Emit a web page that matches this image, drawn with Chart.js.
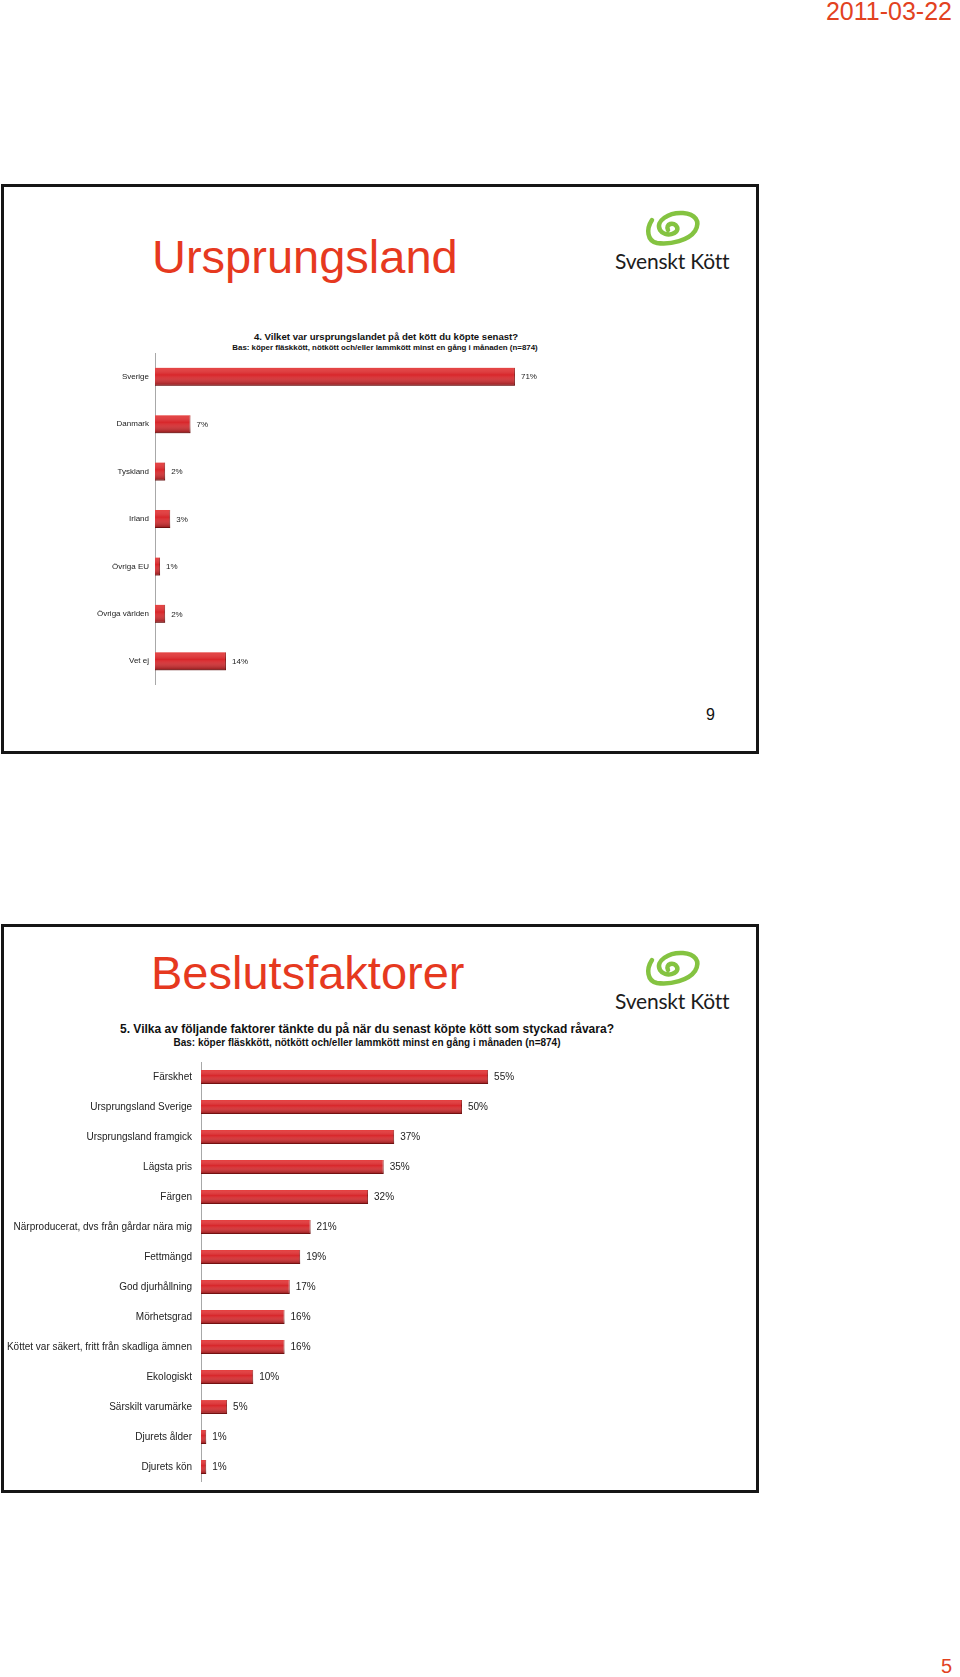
<!DOCTYPE html>
<html>
<head>
<meta charset="utf-8">
<script src="https://cdn.jsdelivr.net/npm/chart.js@4.4.0/dist/chart.umd.min.js"></script>
<style>
  body { margin: 0; background: #fff; font-family: "Liberation Sans", Arial, sans-serif; }
  #page { position: relative; width: 960px; height: 1677px; overflow: hidden; }
  .abs { position: absolute; white-space: nowrap; }
  .slide { position: absolute; box-sizing: border-box; border: 3px solid #161616; }
  .bigtitle { font-size: 47px; line-height: 47px; color: #e6391f; }
  .qtitle { text-align: center; font-weight: bold; color: #111; }
  .logotext { font-family: Lato, "Open Sans", sans-serif; font-size: 21px; line-height: 21px; color: #1c1c1c; letter-spacing: -0.2px; }
  canvas { position: absolute; }
</style>
</head>
<body>
<div id="page">
  <div class="abs" style="right:8px; top:-1px; font-size:25px; line-height:25px; color:#e2421f;">2011-03-22</div>

  <!-- slide 9 -->
  <div class="slide" style="left:1px; top:184px; width:758px; height:570px;"></div>
  <div class="abs bigtitle" style="left:152px; top:233px;">Ursprungsland</div>
  <svg class="abs" style="left:643px; top:207px;" width="60" height="42" viewBox="0 0 60 42">
    <path d="M25 23 C22 17 31 14 34 20 C37 27 22 31 17 23 C12 14 26 5 40 6 C52 7 58 14 52 24 C46 33 28 38 14 36 C4 34 3 22 9 13" fill="none" stroke="#84c341" stroke-width="4.5" stroke-linecap="round" stroke-linejoin="round"/>
  </svg>
  <div class="abs logotext" style="left:615px; top:250px;">Svenskt Kött</div>
  <div class="abs qtitle" style="left:136px; width:500px; top:331px; font-size:9.6px; line-height:11px;">4. Vilket var ursprungslandet på det kött du köpte senast?</div>
  <div class="abs qtitle" style="left:135px; width:500px; top:343px; font-size:7.9px; line-height:9px;">Bas: köper fläskkött, nötkött och/eller lammkött minst en gång i månaden (n=874)</div>
  <canvas id="chart1" width="657" height="332" style="left:5px; top:353px;"></canvas>
  <div class="abs" style="left:706px; top:707px; font-size:16px; line-height:16px; color:#111;">9</div>

  <!-- slide 5 -->
  <div class="slide" style="left:1px; top:924px; width:758px; height:569px;"></div>
  <div class="abs bigtitle" style="left:151px; top:949px;">Beslutsfaktorer</div>
  <svg class="abs" style="left:643px; top:947px;" width="60" height="42" viewBox="0 0 60 42">
    <path d="M25 23 C22 17 31 14 34 20 C37 27 22 31 17 23 C12 14 26 5 40 6 C52 7 58 14 52 24 C46 33 28 38 14 36 C4 34 3 22 9 13" fill="none" stroke="#84c341" stroke-width="4.5" stroke-linecap="round" stroke-linejoin="round"/>
  </svg>
  <div class="abs logotext" style="left:615px; top:990px;">Svenskt Kött</div>
  <div class="abs qtitle" style="left:67px; width:600px; top:1023px; font-size:12px; line-height:13px;">5. Vilka av följande faktorer tänkte du på när du senast köpte kött som styckad råvara?</div>
  <div class="abs qtitle" style="left:67px; width:600px; top:1037px; font-size:10px; line-height:12px;">Bas: köper fläskkött, nötkött och/eller lammkött minst en gång i månaden (n=874)</div>
  <canvas id="chart2" width="717" height="420" style="left:6px; top:1062px;"></canvas>

  <div class="abs" style="right:8px; top:1656px; font-size:20px; line-height:20px; color:#e2421f;">5</div>
</div>

<script>
// Data
const countryLabels = ['Sverige', 'Danmark', 'Tyskland', 'Irland', 'Övriga EU', 'Övriga världen', 'Vet ej'];
const countryValues = [71, 7, 2, 3, 1, 2, 14];

const factorLabels = [
    'Färskhet',
    'Ursprungsland Sverige',
    'Ursprungsland framgick',
    'Lägsta pris',
    'Färgen',
    'Närproducerat, dvs från gårdar nära mig',
    'Fettmängd',
    'God djurhållning',
    'Mörhetsgrad',
    'Köttet var säkert, fritt från skadliga ämnen',
    'Ekologiskt',
    'Särskilt varumärke',
    'Djurets ålder',
    'Djurets kön'
];
const factorValues = [55, 50, 37, 35, 32, 21, 19, 17, 16, 16, 10, 5, 1, 1];

const FONT = '"Liberation Sans", Arial, sans-serif';

// Shading over each bar plus the percent label at its end
const barDecor = {
    id: 'barDecor',
    afterDatasetsDraw(chart, args, opts) {
        const ctx = chart.ctx;
        const meta = chart.getDatasetMeta(0);
        const data = chart.data.datasets[0].data;
        ctx.save();
        meta.data.forEach((bar, i) => {
            const p = bar.getProps(['x', 'y', 'base', 'height'], true);
            const top = p.y - p.height / 2;
            const g = ctx.createLinearGradient(0, top, 0, top + p.height);
            g.addColorStop(0, 'rgba(255,120,110,0.35)');
            g.addColorStop(0.4, 'rgba(255,255,255,0)');
            g.addColorStop(1, 'rgba(70,0,0,0.5)');
            ctx.fillStyle = g;
            ctx.fillRect(p.base, top, p.x - p.base, p.height);

            ctx.fillStyle = opts.color;
            ctx.font = opts.size + 'px ' + FONT;
            ctx.textAlign = 'left';
            ctx.textBaseline = 'middle';
            ctx.fillText(data[i] + '%', p.x + opts.gap, p.y + 0.5);
        });
        ctx.restore();
    }
};

function makeChart(id, labels, values, cfg) {
    const ctx = document.getElementById(id).getContext('2d');
    return new Chart(ctx, {
        type: 'bar',
        data: {
            labels: labels,
            datasets: [{
                data: values,
                backgroundColor: '#d8262a',
                borderColor: '#8c1515',
                borderWidth: { top: 0, right: 1, bottom: 1, left: 0 },
                borderSkipped: false,
                barPercentage: cfg.barPct,
                categoryPercentage: 1
            }]
        },
        options: {
            indexAxis: 'y',
            responsive: false,
            animation: false,
            layout: { padding: 0 },
            plugins: {
                legend: { display: false },
                tooltip: { enabled: false },
                barDecor: { size: cfg.fontSize, gap: cfg.gap, color: '#222' }
            },
            scales: {
                x: { display: false, min: 0, max: 100 },
                y: {
                    grid: { display: false, drawTicks: false },
                    border: { display: true, color: '#a8a8a8', width: 1 },
                    ticks: {
                        color: '#222',
                        font: { family: FONT, size: cfg.fontSize },
                        padding: cfg.tickPad,
                        autoSkip: false
                    },
                    afterFit(s) {
                        s.width = cfg.axisWidth;
                        s.paddingTop = 0;
                        s.paddingBottom = 0;
                    }
                }
            }
        },
        plugins: [barDecor]
    });
}

makeChart('chart1', countryLabels, countryValues, {
    barPct: 0.38, fontSize: 8, gap: 6, tickPad: 6, axisWidth: 150
});

makeChart('chart2', factorLabels, factorValues, {
    barPct: 0.46, fontSize: 10, gap: 6, tickPad: 9, axisWidth: 195
});
</script>
</body>
</html>
